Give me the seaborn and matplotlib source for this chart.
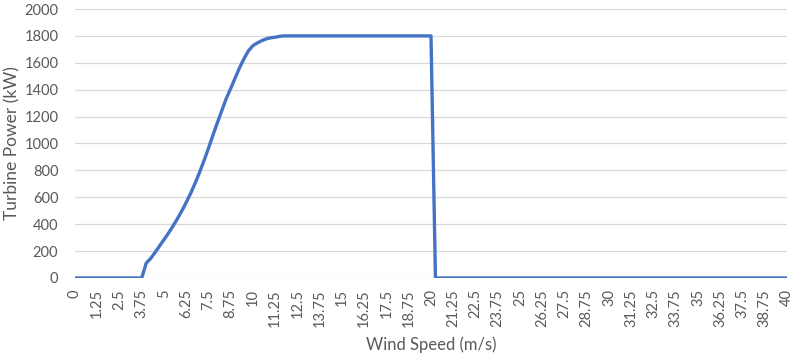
import numpy as np
import pandas as pd
import seaborn as sns
import matplotlib
matplotlib.use('Agg')
import matplotlib.pyplot as plt

# wind speed steps of 0.25 m/s, power
wind_speed = [i * 0.25 for i in range(161)]
ramp_power = [110, 145, 190, 238, 287, 333, 385, 440, 498, 562, 630, 705,
              786, 873, 965, 1062, 1155, 1245, 1335, 1410, 1488, 1565, 1632,
              1690, 1728, 1748, 1765, 1778, 1786, 1790, 1797]
rated_power = [1800] * 34          # 11.75 .. 20.0 m/s
cutout_power = [0] * 80            # 20.25 .. 40.0 m/s
idle_power = [0] * 16              # 0 .. 3.75 m/s
turbine_power = idle_power + ramp_power + rated_power + cutout_power

tick_speeds = [i * 1.25 for i in range(33)]
tick_labels = [f'{v:g}' for v in tick_speeds]
y_ticks = list(range(0, 2001, 200))

df = pd.DataFrame({'wind': wind_speed, 'power': turbine_power})

sns.set_theme(style='white')
plt.rcParams['font.family'] = ['Lato', 'DejaVu Sans']
TXT = '#595959'

fig = plt.figure(figsize=(7.96, 3.53), dpi=100)
ax = fig.add_axes([0.0942, 0.2125, 0.8945, 0.762])

sns.lineplot(data=df, x='wind', y='power', ax=ax, color='#4472C4', linewidth=2.4)

ax.set_xlim(0, 40)
ax.set_ylim(0, 2000)
ax.set_xticks(tick_speeds)
ax.set_xticklabels(tick_labels, rotation=90, fontsize=10.5, color=TXT)
ax.set_yticks(y_ticks)
ax.set_yticklabels([str(v) for v in y_ticks], fontsize=10.5, color=TXT)
ax.tick_params(axis='x', length=0, pad=8)
ax.tick_params(axis='y', length=0, pad=12)
ax.grid(axis='y', color='#D9D9D9', linewidth=0.9)
ax.set_axisbelow(True)
for s in ax.spines.values():
    s.set_visible(False)
ax.set_xlabel('Wind Speed (m/s)', fontsize=12, color=TXT, labelpad=7)
ax.set_ylabel('Turbine Power (kW)', fontsize=12.5, color=TXT)
ax.yaxis.set_label_coords(-0.076, 0.5)

fig.savefig('out.png', dpi=100)
